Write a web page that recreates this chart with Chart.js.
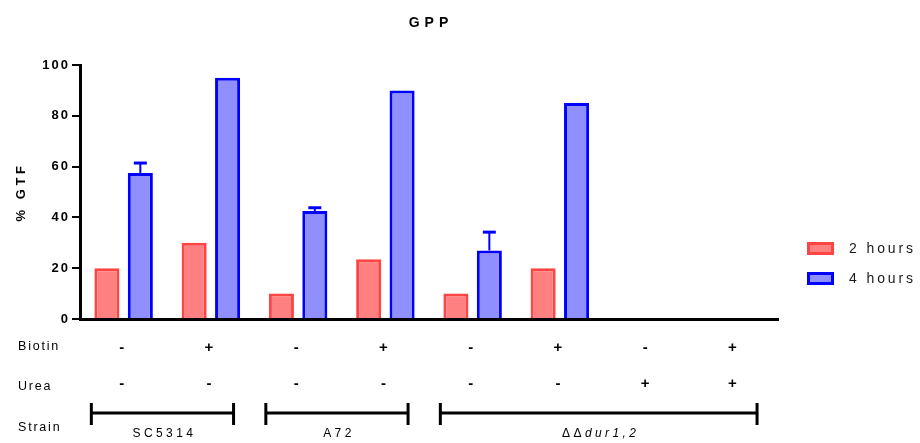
<!DOCTYPE html>
<html>
<head>
<meta charset="utf-8">
<title>GPP</title>
<script src="https://cdn.jsdelivr.net/npm/chart.js@4.4.1/dist/chart.umd.min.js"></script>
<style>
  html, body { margin: 0; padding: 0; background: #fff; }
  #chart { display: block; }
</style>
</head>
<body>
<canvas id="chart" width="920" height="443"></canvas>
<script>
/* GPP — % GTF after 2 h / 4 h, per strain and medium */
var FONT = "'Liberation Sans', Arial, sans-serif";
var RED = '#FF4444', RED_FILL = '#FF8080', BLUE = '#0000FF', BLUE_FILL = '#8F8FFF';

var categories = ['SC5314 B- U-', 'SC5314 B+ U-', 'A72 B- U-', 'A72 B+ U-',
                  'dur B- U-', 'dur B+ U-', 'dur B- U+', 'dur B+ U+'];
var hours2 = [20, 30, 10, 23.5, 10, 20, 0, 0];
var hours4 = [57.5, 95, 42.5, 90, 27, 85, 0, 0];
var err4 = [3.9, 0, 1.3, 0, 7.2, 0, 0, 0];
var biotin = ['-', '+', '-', '+', '-', '+', '-', '+'];
var urea = ['-', '-', '-', '-', '-', '-', '+', '+'];
var strainNames = ['SC5314', 'A72', 'ΔΔdur1,2'];
var strainSpans = [[0, 1], [2, 3], [4, 7]];
var yTicks = [0, 20, 40, 60, 80, 100];

// canvas letter spacing gets reset on resize, so set it before layout and draw
var spacing = {
  id: 'spacing',
  beforeLayout: function (chart) { chart.ctx.letterSpacing = '2px'; },
  beforeDraw: function (chart) { chart.ctx.letterSpacing = '2px'; }
};

/* ---------- error bars (upper only) ---------- */
var errorBars = {
  id: 'errorBars',
  afterDatasetsDraw: function (chart) {
    var ctx = chart.ctx, y = chart.scales.y;
    var meta = chart.getDatasetMeta(1);
    ctx.save();
    ctx.strokeStyle = BLUE;
    err4.forEach(function (e, i) {
      if (!e) return;
      var bar = meta.data[i];
      var top = y.getPixelForValue(hours4[i] + e);
      ctx.lineWidth = 2;
      ctx.beginPath(); ctx.moveTo(bar.x, bar.y); ctx.lineTo(bar.x, top); ctx.stroke();
      ctx.lineWidth = 3;
      ctx.beginPath(); ctx.moveTo(bar.x - 6.5, top); ctx.lineTo(bar.x + 6.5, top); ctx.stroke();
    });
    ctx.restore();
  }
};

/* ---------- title, y title, legend, condition table ---------- */
var extras = {
  id: 'extras',
  afterDraw: function (chart) {
    var ctx = chart.ctx, x = chart.scales.x, area = chart.chartArea;
    var w = x.getPixelForValue(1) - x.getPixelForValue(0);
    ctx.save();
    ctx.fillStyle = '#000';
    ctx.textBaseline = 'middle';

    // title
    ctx.letterSpacing = '5px';
    ctx.font = 'bold 14px ' + FONT;
    ctx.textAlign = 'center';
    ctx.fillText('GPP', (area.left + area.right) / 2 + 2, 23);

    // y title
    ctx.save();
    ctx.translate(21, (area.top + area.bottom) / 2);
    ctx.rotate(-Math.PI / 2);
    ctx.letterSpacing = '3.6px';
    ctx.font = 'bold 13px ' + FONT;
    ctx.fillText('% GTF', 0, 0);
    ctx.restore();

    // legend
    ctx.letterSpacing = '2.9px';
    ctx.font = '14px ' + FONT;
    ctx.textAlign = 'left';
    chart.data.datasets.forEach(function (ds, i) {
      var by = 242 + i * 30;
      ctx.fillStyle = ds.borderColor;
      ctx.fillRect(807, by, 27, 13);
      ctx.fillStyle = ds.backgroundColor;
      ctx.fillRect(810, by + 3, 21, 7);
      ctx.fillStyle = '#1a1a1a';
      ctx.fillText(ds.label, 849, by + 7);
    });

    // row labels
    ctx.fillStyle = '#000';
    ctx.letterSpacing = '1.8px';
    ctx.font = '12.5px ' + FONT;
    ctx.fillText('Biotin', 18, 347);
    ctx.fillText('Urea', 18, 387);
    ctx.fillText('Strain', 18, 428);

    // +/- cells
    ctx.letterSpacing = '0px';
    ctx.textAlign = 'center';
    ctx.font = 'bold 15px ' + FONT;
    for (var i = 0; i < categories.length; i++) {
      var cx = x.getPixelForValue(i) - 2;
      ctx.fillText(biotin[i], cx, 348);
      ctx.fillText(urea[i], cx, 384);
    }

    // strain brackets
    ctx.strokeStyle = '#000';
    ctx.lineWidth = 3;
    strainSpans.forEach(function (s, k) {
      var x0 = x.getPixelForValue(s[0]) - 0.37 * w;
      var x1 = x.getPixelForValue(s[1]) + 0.26 * w;
      ctx.beginPath();
      ctx.moveTo(x0, 413); ctx.lineTo(x1, 413);
      ctx.moveTo(x0, 403); ctx.lineTo(x0, 425);
      ctx.moveTo(x1, 403); ctx.lineTo(x1, 425);
      ctx.stroke();

      var name = strainNames[k], mid = (x0 + x1) / 2;
      ctx.letterSpacing = '3.4px';
      if (name.indexOf('ΔΔ') === 0) {
        // ΔΔ upright, dur1,2 italic
        var a = name.slice(0, 2), b = name.slice(2);
        ctx.font = '12px ' + FONT;
        var wa = ctx.measureText(a).width;
        ctx.font = 'italic 12px ' + FONT;
        var wb = ctx.measureText(b).width;
        var sx = mid - (wa + wb) / 2 + 2;
        ctx.textAlign = 'left';
        ctx.font = '12px ' + FONT;
        ctx.fillText(a, sx, 434);
        ctx.font = 'italic 12px ' + FONT;
        ctx.fillText(b, sx + wa, 434);
        ctx.textAlign = 'center';
      } else {
        ctx.font = '12px ' + FONT;
        ctx.fillText(name, mid + 2, 434);
      }
    });
    ctx.restore();
  }
};

new Chart(document.getElementById('chart'), {
  type: 'bar',
  data: {
    labels: categories,
    datasets: [
      { label: '2 hours', data: hours2, backgroundColor: RED_FILL, borderColor: RED, borderWidth: 3 },
      { label: '4 hours', data: hours4, backgroundColor: BLUE_FILL, borderColor: BLUE, borderWidth: 3 }
    ]
  },
  options: {
    responsive: false,
    animation: false,
    devicePixelRatio: 1,
    categoryPercentage: 0.766,
    barPercentage: 0.75,
    layout: { padding: { top: 65, right: 142, bottom: 124, left: 0 } },
    plugins: { legend: { display: false }, title: { display: false }, tooltip: { enabled: false } },
    scales: {
      x: {
        grid: { display: false },
        ticks: { display: false },
        border: { display: true, color: '#000', width: 3 },
        afterFit: function (s) { s.height = 0; }
      },
      y: {
        min: 0, max: 100,
        afterBuildTicks: function (s) { s.ticks = yTicks.map(function (v) { return { value: v }; }); },
        ticks: { color: '#000', padding: 2, font: { family: FONT, size: 13, weight: 'bold' } },
        grid: { drawOnChartArea: false, drawTicks: true, tickLength: 8, color: '#000', lineWidth: 2 },
        border: { display: true, color: '#000', width: 3 },
        afterFit: function (s) { s.width = 80; }
      }
    }
  },
  plugins: [spacing, errorBars, extras]
});
</script>
</body>
</html>
